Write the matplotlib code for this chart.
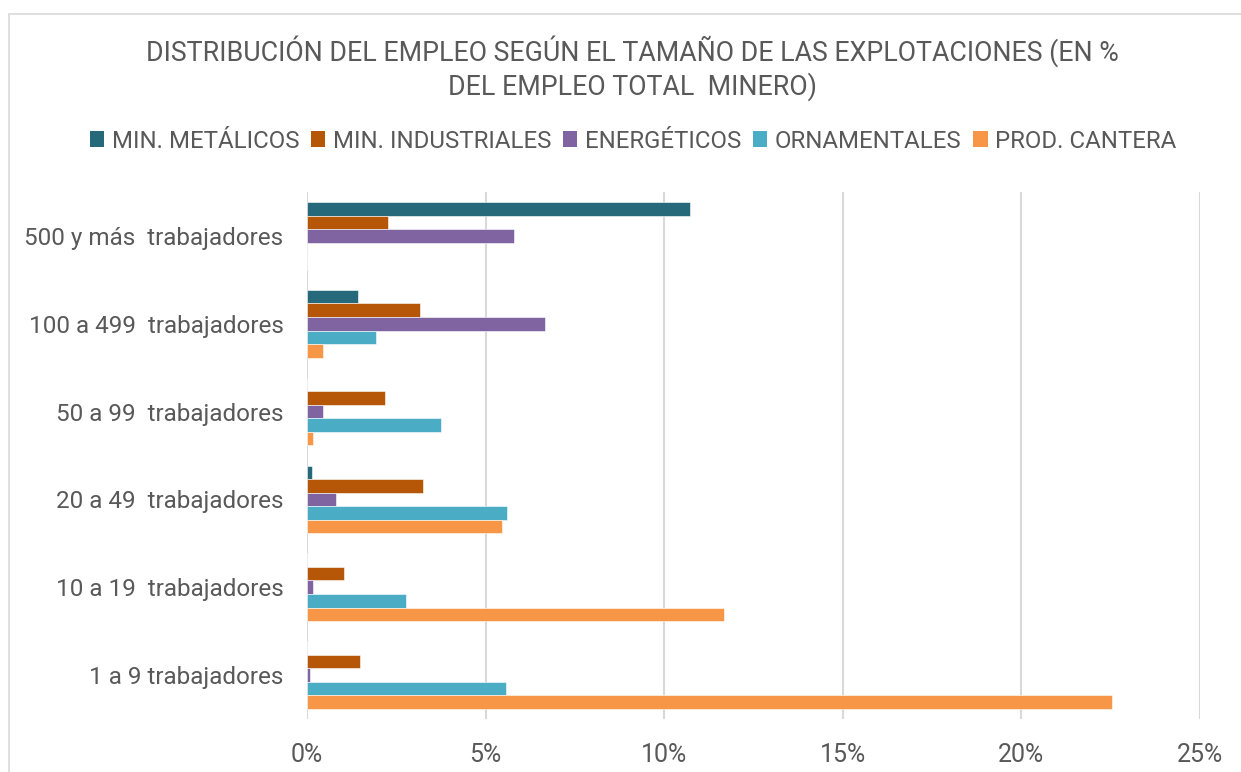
import numpy as np
import matplotlib
matplotlib.use("Agg")
import matplotlib.pyplot as plt
from matplotlib.patches import Patch, Rectangle

plt.rcParams["font.family"] = ["Roboto", "DejaVu Sans"]

categories = [
    "1 a 9 trabajadores",
    "10 a 19  trabajadores",
    "20 a 49  trabajadores",
    "50 a 99  trabajadores",
    "100 a 499  trabajadores",
    "500 y más  trabajadores",
]
series = ["MIN. METÁLICOS", "MIN. INDUSTRIALES", "ENERGÉTICOS", "ORNAMENTALES", "PROD. CANTERA"]
colors = ["#26697a", "#b65708", "#8064a2", "#4bacc6", "#f79646"]

# % del empleo total minero, same order as categories
metalicos = [0.0, 0.0, 0.14, 0.0, 1.43, 10.72]
industriales = [1.48, 1.04, 3.24, 2.19, 3.16, 2.28]
energeticos = [0.08, 0.17, 0.82, 0.45, 6.66, 5.80]
ornamentales = [5.57, 2.77, 5.60, 3.76, 1.94, 0.0]
cantera = [22.54, 11.68, 5.45, 0.17, 0.45, 0.0]
values = [metalicos, industriales, energeticos, ornamentales, cantera]

xticks = [0, 5, 10, 15, 20, 25]
title = "DISTRIBUCIÓN DEL EMPLEO SEGÚN EL TAMAÑO DE LAS EXPLOTACIONES (EN %\nDEL EMPLEO TOTAL  MINERO)"

text_col = "#595959"
grid_col = "#d9d9d9"

fig = plt.figure(figsize=(12.41, 7.72), dpi=100)
ax = fig.add_axes([307 / 1241, 1 - 719 / 772, (1200 - 307) / 1241, (719 - 192) / 772])

y = np.arange(len(categories))
h = 0.154
for j, (vals, col) in enumerate(zip(values, colors)):
    ax.barh(y + (2 - j) * h, vals, height=h, color=col, edgecolor="white", linewidth=0.4, zorder=3)

ax.set_xlim(0, 25)
ax.set_ylim(-0.5, len(categories) - 0.5)
ax.set_xticks(xticks)
ax.set_xticklabels([f"{t}%" for t in xticks])
ax.set_yticks(y)
ax.set_yticklabels(categories)
ax.tick_params(axis="x", length=0, pad=17, labelsize=18, labelcolor=text_col)
ax.tick_params(axis="y", length=0, pad=17, labelsize=17.5, labelcolor=text_col)
ax.grid(axis="x", color=grid_col, linewidth=1.5, zorder=0)
for s in ax.spines.values():
    s.set_visible(False)

fig.text(632 / 1241, 1 - 68 / 772, title, ha="center", va="center", fontsize=19.3,
         color=text_col, linespacing=1.2)

handles = [Patch(facecolor=c, edgecolor="none") for c in colors]
fig.legend(handles, series, loc="center", bbox_to_anchor=(633 / 1241, 1 - 141 / 772), ncol=5,
           frameon=False, fontsize=17.3, labelcolor=text_col, handlelength=0.6, handleheight=0.6,
           handletextpad=0.3, columnspacing=0.5)

fig.patches.append(Rectangle((9 / 1241, -0.1), 1.2, 1 - 14 / 772 + 0.1, transform=fig.transFigure,
                             fill=False, edgecolor=grid_col, linewidth=1.2))

fig.savefig("out.png", dpi=100)
